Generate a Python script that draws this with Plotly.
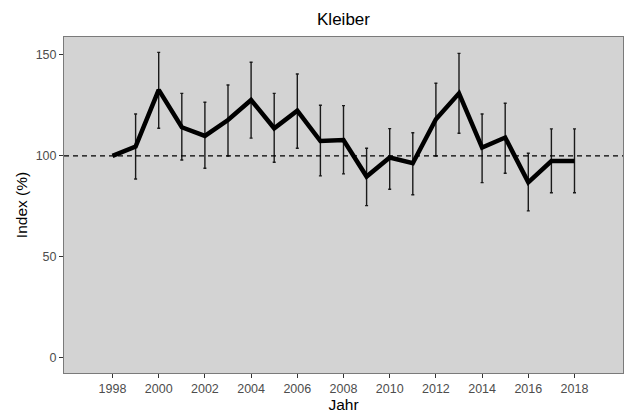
import plotly.graph_objects as go

# Kleiber population index by year, with confidence limits
years = [1998, 1999, 2000, 2001, 2002, 2003, 2004, 2005, 2006, 2007, 2008,
         2009, 2010, 2011, 2012, 2013, 2014, 2015, 2016, 2017, 2018]
index_pct = [100.0, 104.6, 132.7, 114.2, 109.9, 117.8, 127.7, 113.7, 122.4, 107.4, 107.9,
             89.8, 99.2, 96.4, 118.2, 131.0, 104.1, 109.1, 86.9, 97.5, 97.5]
upper = [None, 120.8, 151.3, 131.0, 126.6, 135.1, 146.4, 131.0, 140.6, 125.1, 124.9,
         103.8, 113.5, 111.5, 136.0, 150.8, 120.8, 126.1, 101.3, 113.4, 113.4]
lower = [None, 88.6, 113.7, 98.0, 93.9, 100.0, 108.8, 96.9, 103.8, 90.1, 91.1,
         75.4, 83.5, 80.8, 100.0, 111.2, 86.8, 91.4, 72.8, 81.8, 81.8]

x_ticks = list(range(1998, 2019, 2))
y_ticks = [0, 50, 100, 150]
reference_level = 100

# error bars only where limits exist
eb_years = [y for y, u in zip(years, upper) if u is not None]
eb_vals = [v for v, u in zip(index_pct, upper) if u is not None]
eb_plus = [u - v for v, u in zip(index_pct, upper) if u is not None]
eb_minus = [v - l for v, l in zip(index_pct, lower) if l is not None]

fig = go.Figure()

fig.add_trace(go.Scatter(
    x=eb_years, y=eb_vals, mode="markers",
    marker=dict(size=1, opacity=0),
    error_y=dict(type="data", symmetric=False, array=eb_plus, arrayminus=eb_minus,
                 color="#1a1a1a", thickness=1.4, width=1.5),
    hoverinfo="skip", showlegend=False,
))

fig.add_trace(go.Scatter(
    x=years, y=index_pct, mode="lines",
    line=dict(color="black", width=4.5),
    showlegend=False,
))

fig.add_shape(type="line", xref="paper", x0=0, x1=1, yref="y",
              y0=reference_level, y1=reference_level,
              line=dict(color="black", width=1.3, dash="5px,4px"))

font_family = "Liberation Sans, Arial, sans-serif"

fig.update_layout(
    width=626, height=416,
    margin=dict(l=64, r=3, t=37, b=43),
    paper_bgcolor="white",
    plot_bgcolor="#d3d3d3",
    font=dict(family=font_family, color="black"),
    title=dict(text="Kleiber", x=0.5, xref="paper", xanchor="center",
               y=1 - 19 / 416, yanchor="middle",
               font=dict(size=17, color="black", family=font_family)),
    xaxis=dict(
        range=[1995.9, 2020.1], tickvals=x_ticks, ticktext=[str(t) for t in x_ticks],
        showgrid=False, zeroline=False,
        showline=True, mirror=True, linecolor="#7a7a7a", linewidth=1,
        ticks="outside", ticklen=4, tickcolor="#333333", tickwidth=1,
        tickfont=dict(size=12.5, color="#4d4d4d"),
        title=dict(text="Jahr", font=dict(size=15.5, color="black"), standoff=3),
    ),
    yaxis=dict(
        range=[-7.5, 158.9], tickvals=y_ticks, ticktext=[str(t) for t in y_ticks],
        showgrid=False, zeroline=False,
        showline=True, mirror=True, linecolor="#7a7a7a", linewidth=1,
        ticks="outside", ticklen=4, tickcolor="#333333", tickwidth=1,
        tickfont=dict(size=12.5, color="#4d4d4d"),
        title=dict(text="Index (%)", font=dict(size=15.5, color="black"), standoff=4),
    ),
)

fig.write_html("out.html")
